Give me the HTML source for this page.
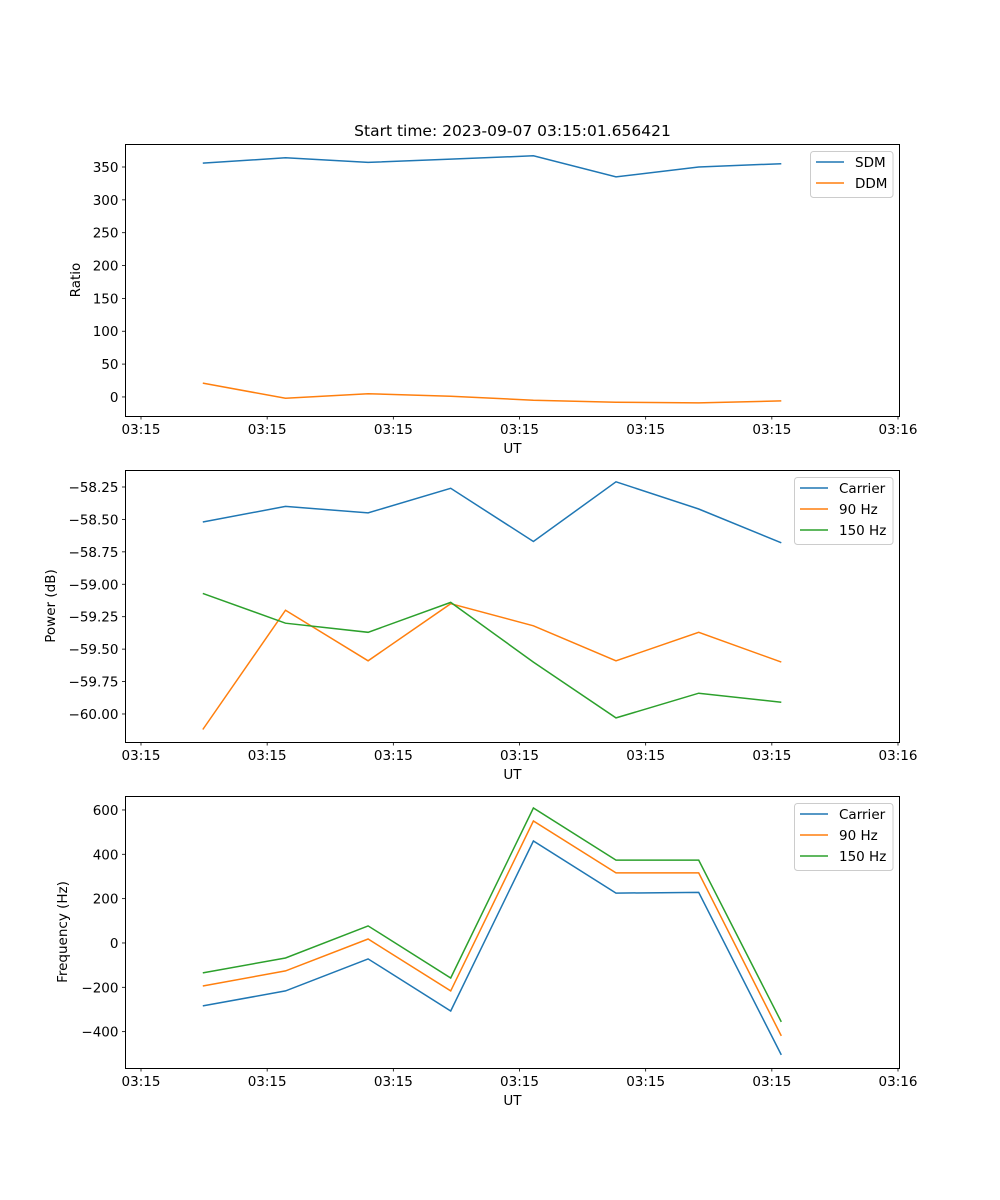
<!DOCTYPE html>
<html><head><meta charset="utf-8"><style>
body{margin:0;background:#fff}
svg{display:block;font-family:"DejaVu Sans","Liberation Sans",sans-serif}
</style></head><body>
<svg id="fig" width="1000" height="1200" viewBox="0 0 1000 1200" xmlns="http://www.w3.org/2000/svg">
<rect width="1000" height="1200" fill="#fff"/>
<text x="512.5" y="136" font-size="15.5" text-anchor="middle">Start time: 2023-09-07 03:15:01.656421</text>
</svg>
<script>
const times = [4.9, 11.45, 18.0, 24.55, 31.1, 37.65, 44.2, 50.75];
const xTicks = [0, 10, 20, 30, 40, 50, 60];
const xTickLabels = ["03:15","03:15","03:15","03:15","03:15","03:15","03:16"];
const sdm = [356, 364, 357, 362, 367, 335, 350, 355];
const ddm = [21, -2, 5, 1, -5, -8, -9, -6];
const pCarrier = [-58.52, -58.40, -58.45, -58.26, -58.67, -58.21, -58.42, -58.68];
const p90 = [-60.12, -59.20, -59.59, -59.15, -59.32, -59.59, -59.37, -59.60];
const p150 = [-59.07, -59.30, -59.37, -59.14, -59.60, -60.03, -59.84, -59.91];
const fCarrier = [-284, -216, -72, -307, 460, 225, 228, -505];
const f90 = [-194, -126, 18, -216, 550, 316, 316, -419];
const f150 = [-135, -68, 77, -158, 609, 374, 374, -356];
const yTicks1 = [0,50,100,150,200,250,300,350];
const yTicks2 = [-60.00,-59.75,-59.50,-59.25,-59.00,-58.75,-58.50,-58.25];
const yTicks3 = [-400,-200,0,200,400,600];

const NS="http://www.w3.org/2000/svg", svg=document.getElementById('fig');
const C=['#1f77b4','#ff7f0e','#2ca02c'];
function mk(t,a,p){const e=document.createElementNS(NS,t);for(const k in a)e.setAttribute(k,a[k]);(p||svg).appendChild(e);return e;}
const L=125.5,R=899.5;
const xs=v=>141+(v-0)*(898-141)/60;
function panel(id,top,bot,ymin,ymax,yt,fmt,series,names,ylabel,leg){
  const g=mk('g',{});
  
  
  const ys=v=>bot-(v-ymin)/(ymax-ymin)*(bot-top);
  series.forEach((s,i)=>{
    const pl=mk('polyline',{points:s.map((v,j)=>xs(times[j]).toFixed(1)+','+ys(v).toFixed(1)).join(' '),fill:'none',stroke:C[i],'stroke-width':1.5},g);
    
    
  });
  const fr=mk('rect',{x:L,y:top+0.5,width:R-L,height:bot-top,fill:'none',stroke:'#000','stroke-width':1},g);
  
  
  xTicks.forEach((t,i)=>{const x=xs(t);mk('line',{x1:x,x2:x,y1:bot,y2:bot+3.5,stroke:'#000','stroke-width':0.8},g);
    const tx=mk('text',{x:x,y:bot+18,'font-size':13.5,'text-anchor':'middle'},g);tx.textContent=xTickLabels[i];
    
    });
  yt.forEach(v=>{const y=ys(v);mk('line',{x1:L-3.5,x2:L,y1:y,y2:y,stroke:'#000','stroke-width':0.8},g);
    const tx=mk('text',{x:L-7,y:y+5,'font-size':13.5,'text-anchor':'end'},g);tx.textContent=fmt(v);
    
    });
  const xl=mk('text',{x:(L+R)/2,y:bot+37,'font-size':13.5,'text-anchor':'middle'},g);xl.textContent='UT';
  
  
  const yx=leg.ylx,yy=(top+bot)/2;
  const yl=mk('text',{x:yx,y:yy,'font-size':13.5,'text-anchor':'middle',transform:`rotate(-90 ${yx} ${yy})`},g);yl.textContent=ylabel;
  
  
  const lg=mk('g',{},g);
  
  
  const h=names.length*21+4;
  mk('rect',{x:leg.x+0.5,y:top+7.5,width:R-7-leg.x,height:h,rx:3,fill:'#fff','fill-opacity':0.8,stroke:'#ccc'},lg);
  names.forEach((n,i)=>{const y=top+7+11+i*21;
    mk('line',{x1:leg.x+6,x2:leg.x+34,y1:y,y2:y,stroke:C[i],'stroke-width':1.5},lg);
    const t=mk('text',{x:leg.x+45,y:y+5,'font-size':13.5},lg);t.textContent=n;
    
    });
}
const m=v=>String(v).replace('-','\u2212');
panel('ratio-panel',144,416,-29,385,yTicks1,m,[sdm,ddm],['SDM','DDM'],'Ratio',{x:810,ylx:80});
panel('power-panel',470,742,-60.216,-58.119,yTicks2,v=>m(v.toFixed(2)),[pCarrier,p90,p150],['Carrier','90 Hz','150 Hz'],'Power (dB)',{x:794,ylx:55});
panel('frequency-panel',796,1068,-564,663,yTicks3,m,[fCarrier,f90,f150],['Carrier','90 Hz','150 Hz'],'Frequency (Hz)',{x:794,ylx:67});
</script>
</body></html>
